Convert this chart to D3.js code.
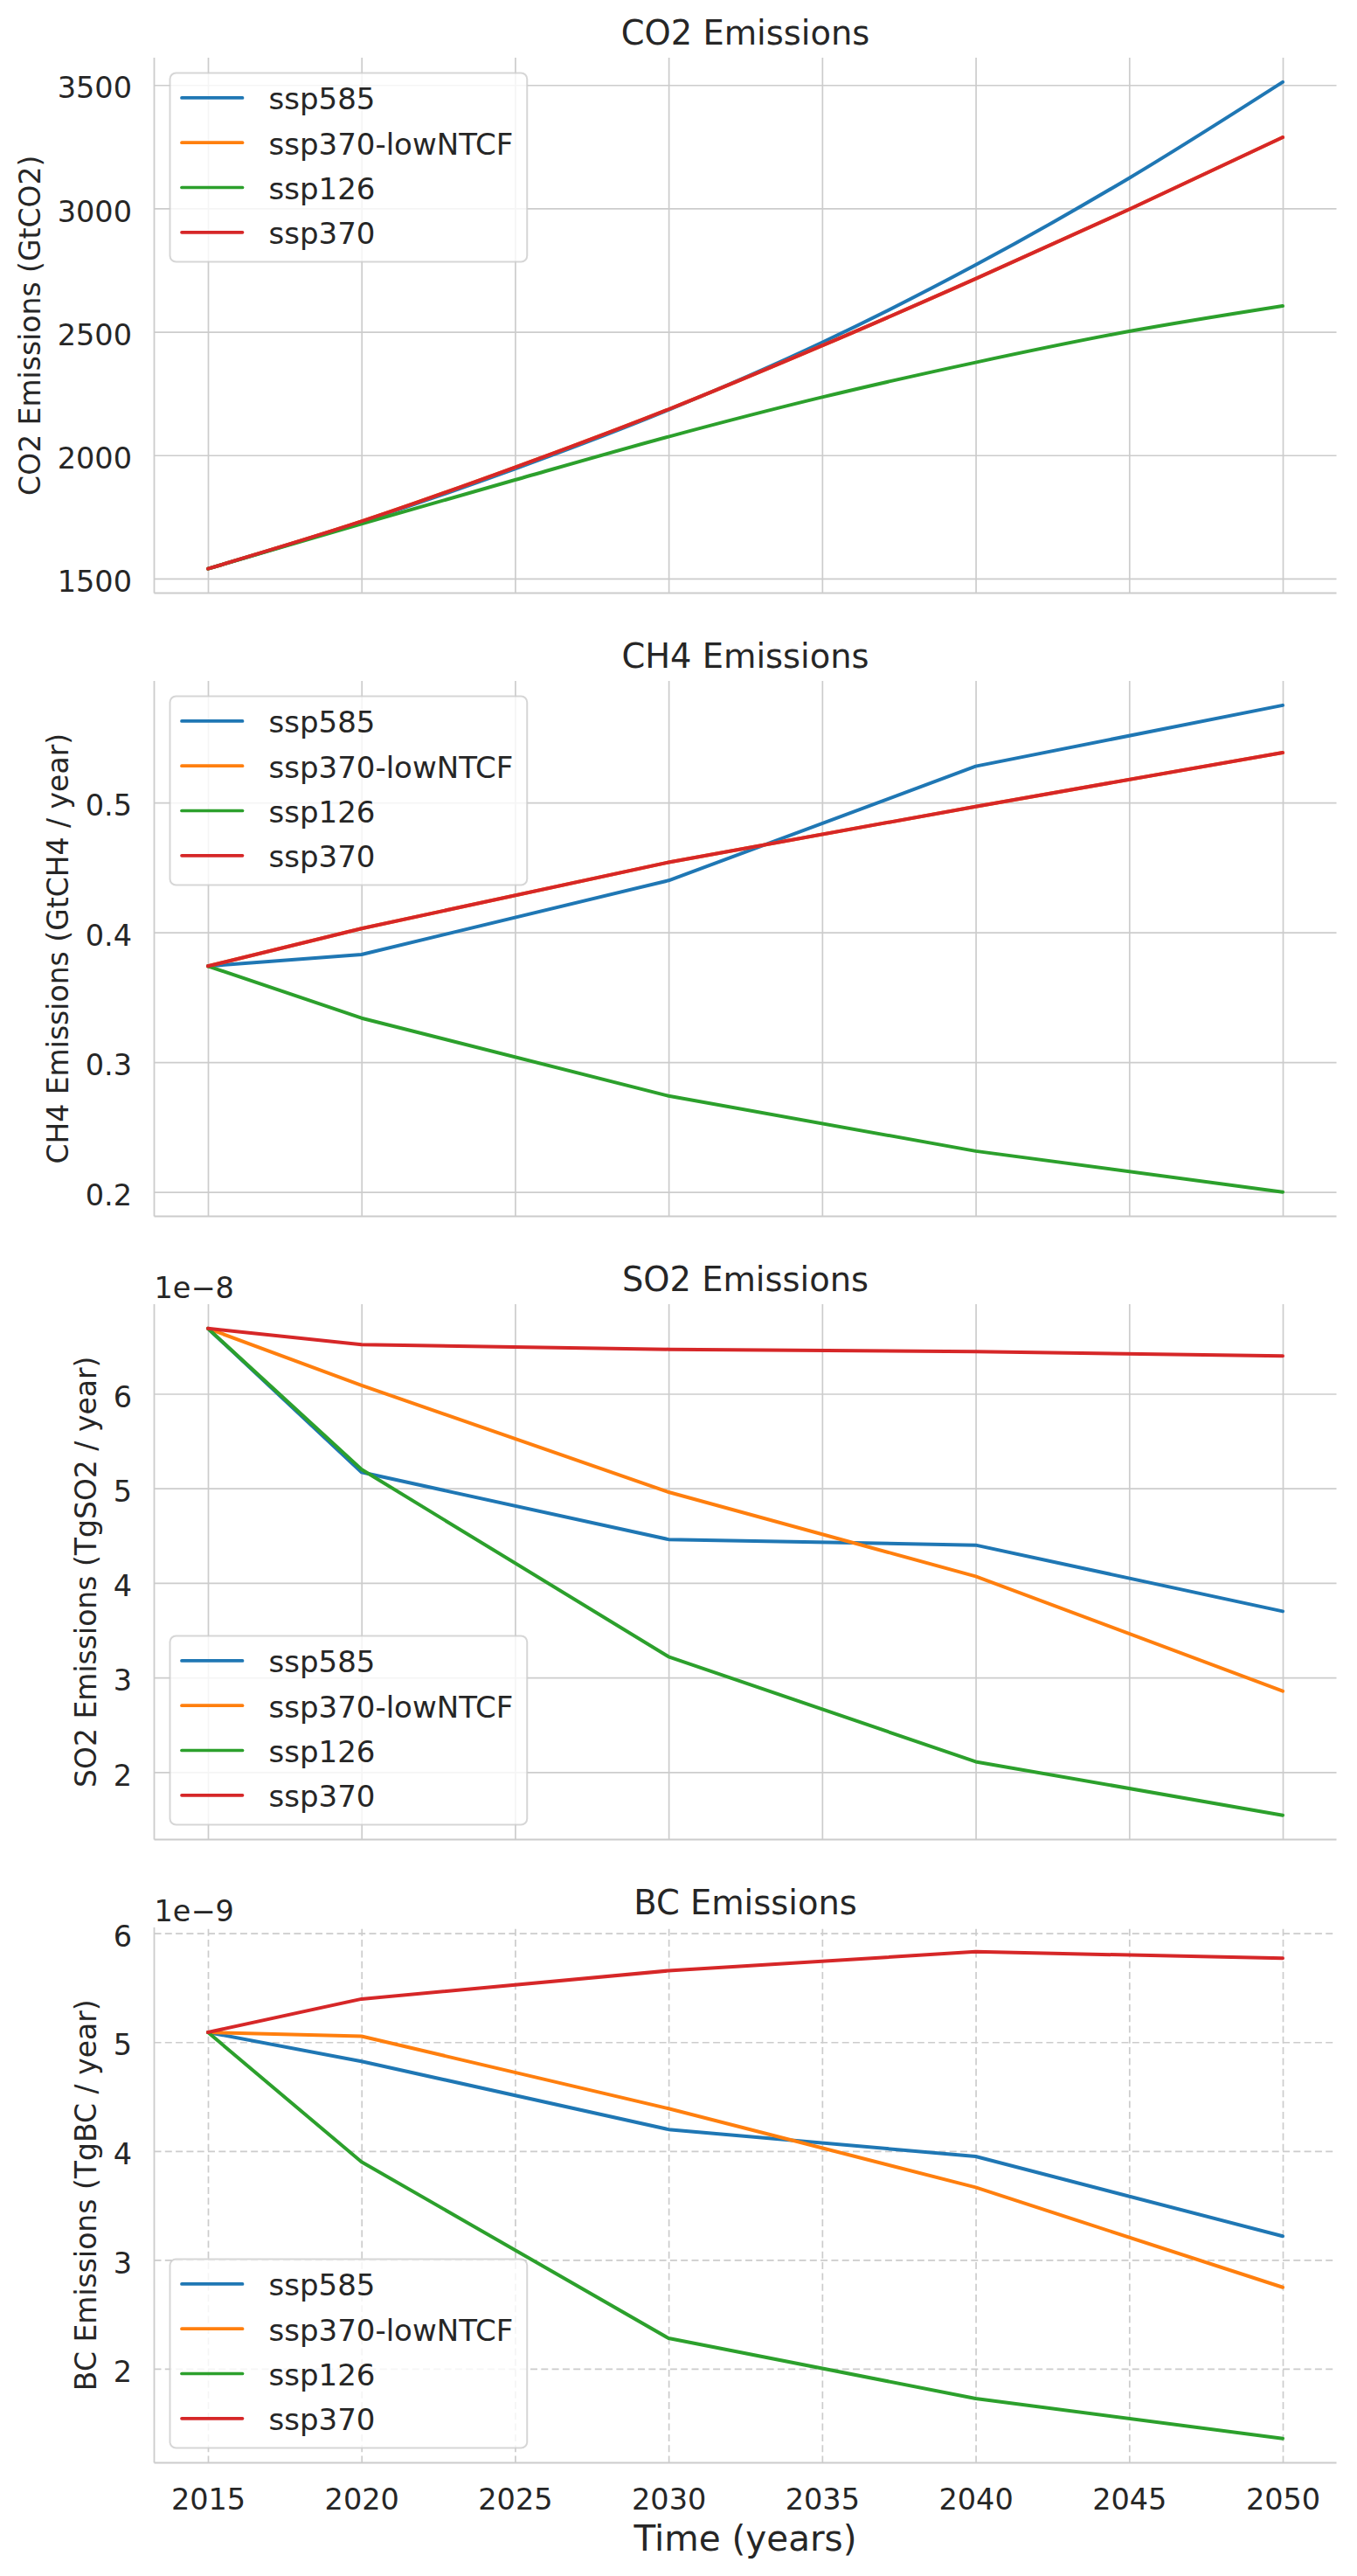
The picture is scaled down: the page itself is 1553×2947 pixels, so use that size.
<!DOCTYPE html>
<html>
<head>
<meta charset="utf-8">
<script src="https://cdn.jsdelivr.net/npm/d3@7"></script>
<style>
  body { margin: 0; background: #fff; }
  svg text { font-family: "DejaVu Sans", sans-serif; fill: #262626; }
</style>
</head>
<body>
<script>
// years on the x axis
var years = [2015, 2020, 2030, 2040, 2050];
var co2Years = [2015, 2020, 2025, 2030, 2035, 2040, 2045, 2050];
var xTicks = [2015, 2020, 2025, 2030, 2035, 2040, 2045, 2050];

var scenarios = ["ssp585", "ssp370-lowNTCF", "ssp126", "ssp370"];
var colors = ["#1f77b4", "#ff7f0e", "#2ca02c", "#d62728"];

// CO2 (GtCO2), read every 5 years
var co2_ssp585        = [1540, 1730, 1945, 2184, 2457, 2771, 3123, 3512];
var co2_ssp370lowNTCF = [1540, 1732, 1951, 2186, 2444, 2715, 2996, 3288];
var co2_ssp126        = [1540, 1722, 1900, 2075, 2235, 2376, 2502, 2605];
var co2_ssp370        = [1540, 1732, 1951, 2186, 2444, 2715, 2996, 3288];
var co2YTicks = [1500, 2000, 2500, 3000, 3500];

// CH4 (GtCH4 / year)
var ch4_ssp585        = [0.374, 0.383, 0.440, 0.528, 0.575];
var ch4_ssp370lowNTCF = [0.374, 0.403, 0.454, 0.497, 0.5385];
var ch4_ssp126        = [0.374, 0.334, 0.274, 0.2315, 0.200];
var ch4_ssp370        = [0.374, 0.403, 0.454, 0.497, 0.5385];
var ch4YTicks = [0.2, 0.3, 0.4, 0.5];

// SO2 (TgSO2 / year)
var so2_ssp585        = [6.69e-8, 5.17e-8, 4.46e-8, 4.40e-8, 3.70e-8];
var so2_ssp370lowNTCF = [6.69e-8, 6.09e-8, 4.96e-8, 4.07e-8, 2.856e-8];
var so2_ssp126        = [6.69e-8, 5.20e-8, 3.22e-8, 2.11e-8, 1.544e-8];
var so2_ssp370        = [6.69e-8, 6.52e-8, 6.47e-8, 6.445e-8, 6.40e-8];
var so2YTicks = [2e-8, 3e-8, 4e-8, 5e-8, 6e-8];

// BC (TgBC / year)
var bc_ssp585        = [5.09e-9, 4.823e-9, 4.198e-9, 3.95e-9, 3.218e-9];
var bc_ssp370lowNTCF = [5.09e-9, 5.054e-9, 4.39e-9, 3.666e-9, 2.748e-9];
var bc_ssp126        = [5.09e-9, 3.90e-9, 2.28e-9, 1.727e-9, 1.36e-9];
var bc_ssp370        = [5.09e-9, 5.396e-9, 5.656e-9, 5.83e-9, 5.77e-9];
var bcYTicks = [2e-9, 3e-9, 4e-9, 5e-9, 6e-9];

var panels = [
  { title: "CO2 Emissions", ylabel: "CO2 Emissions (GtCO2)", xs: co2Years,
    series: [co2_ssp585, co2_ssp370lowNTCF, co2_ssp126, co2_ssp370],
    ticks: co2YTicks, factor: 1, fmt: d3.format("d"), offset: null,
    dashed: false, legend: "upper", curve: d3.curveMonotoneX },
  { title: "CH4 Emissions", ylabel: "CH4 Emissions (GtCH4 / year)", xs: years,
    series: [ch4_ssp585, ch4_ssp370lowNTCF, ch4_ssp126, ch4_ssp370],
    ticks: ch4YTicks, factor: 1, fmt: d3.format(".1f"), offset: null,
    dashed: false, legend: "upper", curve: d3.curveLinear },
  { title: "SO2 Emissions", ylabel: "SO2 Emissions (TgSO2 / year)", xs: years,
    series: [so2_ssp585, so2_ssp370lowNTCF, so2_ssp126, so2_ssp370],
    ticks: so2YTicks, factor: 1e-8, fmt: d3.format(".0f"), offset: "1e\u22128",
    dashed: false, legend: "lower", curve: d3.curveLinear },
  { title: "BC Emissions", ylabel: "BC Emissions (TgBC / year)", xs: years,
    series: [bc_ssp585, bc_ssp370lowNTCF, bc_ssp126, bc_ssp370],
    ticks: bcYTicks, factor: 1e-9, fmt: d3.format(".0f"), offset: "1e\u22129",
    dashed: true, legend: "lower", curve: d3.curveLinear }
];

// layout
var left = 176.5, width = 1353, height = 612.5;
var tops = [66, 779, 1492, 2205];
var gridColor = "#cccccc";

var svg = d3.select("body").append("svg")
    .attr("width", 1553)
    .attr("height", 2947);

// shared x scale with matplotlib-like 5% margins
var xMin = d3.min(xTicks), xMax = d3.max(xTicks), xPad = (xMax - xMin) * 0.05;
var x = d3.scaleLinear().domain([xMin - xPad, xMax + xPad]).range([0, width]);

panels.forEach(function(p, pi) {
  var g = svg.append("g").attr("transform", "translate(" + left + "," + tops[pi] + ")");

  var all = d3.merge(p.series);
  var lo = d3.min(all), hi = d3.max(all), pad = (hi - lo) * 0.05;
  var y = d3.scaleLinear().domain([lo - pad, hi + pad]).range([height, 0]);

  // grid
  var hg = g.append("g")
      .call(d3.axisLeft(y).tickValues(p.ticks).tickSize(-width).tickFormat(""));
  hg.select(".domain").remove();
  var vg = g.append("g")
      .attr("transform", "translate(0," + height + ")")
      .call(d3.axisBottom(x).tickValues(xTicks).tickSize(-height).tickFormat(""));
  vg.select(".domain").remove();
  g.selectAll(".tick line")
      .attr("stroke", gridColor)
      .attr("stroke-width", 1.7)
      .attr("stroke-dasharray", p.dashed ? "8,4.3" : null);

  // lines
  p.series.forEach(function(vals, si) {
    var pts = vals.map(function(v, i) { return [p.xs[i], v]; });
    var line = d3.line()
        .x(function(d) { return x(d[0]); })
        .y(function(d) { return y(d[1]); })
        .curve(p.curve);
    g.append("path")
        .datum(pts)
        .attr("fill", "none")
        .attr("stroke", colors[si])
        .attr("stroke-width", 4)
        .attr("stroke-linejoin", "round")
        .attr("stroke-linecap", "round")
        .attr("d", line);
  });

  // spines (left and bottom)
  g.append("line").attr("x1", 0).attr("x2", 0).attr("y1", 0).attr("y2", height)
      .attr("stroke", gridColor).attr("stroke-width", 1.8);
  g.append("line").attr("x1", 0).attr("x2", width).attr("y1", height).attr("y2", height)
      .attr("stroke", gridColor).attr("stroke-width", 1.8);

  // y tick labels
  var ya = g.append("g")
      .call(d3.axisLeft(y).tickValues(p.ticks).tickSize(0).tickPadding(25.5)
        .tickFormat(function(d) { return p.fmt(d / p.factor); }));
  ya.select(".domain").remove();
  ya.selectAll("text")
      .attr("dy", "0.44em")
      .style("font-size", "33.5px")
      .style("font-family", "'DejaVu Sans', sans-serif")
      .style("fill", "#262626");

  // x tick labels on the bottom panel only
  if (pi === panels.length - 1) {
    var xa = g.append("g")
        .attr("transform", "translate(0," + height + ")")
        .call(d3.axisBottom(x).tickValues(xTicks).tickSize(0).tickPadding(30)
          .tickFormat(d3.format("d")));
    xa.select(".domain").remove();
    xa.selectAll("text")
        .style("font-size", "33.5px")
        .style("font-family", "'DejaVu Sans', sans-serif")
        .style("fill", "#262626");

    g.append("text")
        .attr("x", width / 2)
        .attr("y", height + 100.7)
        .attr("text-anchor", "middle")
        .style("font-size", "40.5px")
        .text("Time (years)");
  }

  // y label, placed left of the widest tick label
  var minX = d3.min(ya.selectAll("text").nodes(), function(n) { return n.getBBox().x; });
  g.append("text")
      .attr("transform", "translate(" + (minX - 20) + "," + (height / 2) + ") rotate(-90)")
      .attr("text-anchor", "middle")
      .style("font-size", "33px")
      .text(p.ylabel);

  // title
  g.append("text")
      .attr("x", width / 2)
      .attr("y", -15.5)
      .attr("text-anchor", "middle")
      .style("font-size", "38.4px")
      .text(p.title);

  // offset text
  if (p.offset) {
    g.append("text")
        .attr("x", 0)
        .attr("y", -7)
        .style("font-size", "33.5px")
        .text(p.offset);
  }

  // legend
  var boxX = 18, boxH = 216;
  var boxY = p.legend === "upper" ? 17.5 : height - 17 - boxH;
  var lg = g.append("g");
  var frame = lg.append("rect")
      .attr("x", boxX).attr("y", boxY)
      .attr("height", boxH)
      .attr("rx", 7).attr("ry", 7)
      .attr("fill", "#ffffff").attr("fill-opacity", 0.8)
      .attr("stroke", gridColor).attr("stroke-opacity", 0.8)
      .attr("stroke-width", 2);
  var textX = boxX + 113, maxW = 0;
  scenarios.forEach(function(name, si) {
    var ry = boxY + 28.4 + si * 51.3;
    lg.append("line")
        .attr("x1", boxX + 13.5).attr("x2", boxX + 83)
        .attr("y1", ry).attr("y2", ry)
        .attr("stroke", colors[si])
        .attr("stroke-width", 3.7)
        .attr("stroke-linecap", "round");
    var t = lg.append("text")
        .attr("x", textX)
        .attr("y", ry + 13.3)
        .style("font-size", "34px")
        .text(name);
    maxW = Math.max(maxW, t.node().getComputedTextLength());
  });
  frame.attr("width", textX + maxW + 16 - boxX);
});
</script>
</body>
</html>
